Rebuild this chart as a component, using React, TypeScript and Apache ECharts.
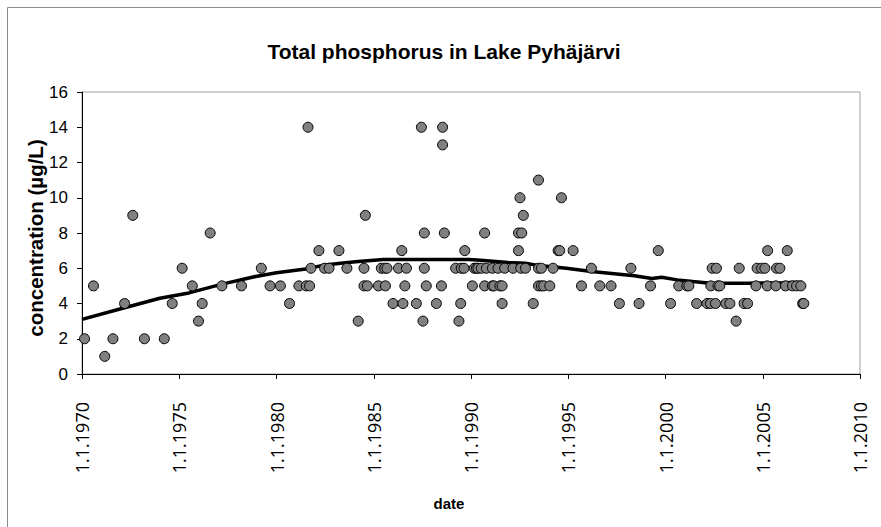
import React, { useEffect, useRef } from "react";
import * as echarts from "echarts";

const titleText = "Total phosphorus in Lake Pyhäjärvi";
const yAxisName = "concentration (µg/L)";
const xAxisName = "date";

// sample dates (decimal years) and total phosphorus (µg/L)
const sampleDates = [
  1970.13, 1970.59, 1971.17, 1971.59, 1972.19, 1972.61, 1973.21, 1974.23, 1974.64, 1975.15,
  1975.67, 1975.99, 1976.18, 1976.59, 1977.19, 1978.2, 1979.22, 1979.67, 1980.2, 1980.67,
  1981.15, 1981.53, 1981.7, 1981.62, 1981.77, 1982.18, 1982.47, 1982.7, 1983.21, 1983.62,
  1984.2, 1984.5, 1984.5, 1984.67, 1984.57, 1985.24, 1985.39, 1985.56, 1985.68, 1985.6,
  1985.99, 1986.27, 1986.44, 1986.5, 1986.6, 1986.68, 1987.19, 1987.45, 1987.53, 1987.6,
  1987.6, 1987.7, 1988.22, 1988.48, 1988.54, 1988.54, 1988.63, 1989.21, 1989.5, 1989.64,
  1989.47, 1989.38, 1989.68, 1990.07, 1990.17, 1990.28, 1990.36, 1990.53, 1990.79, 1991.1,
  1991.39, 1991.73, 1992.16, 1992.56, 1992.8, 1990.7, 1990.7, 1991.1, 1991.18, 1991.49,
  1991.6, 1991.6, 1992.44, 1992.44, 1992.61, 1992.52, 1992.69, 1993.2, 1993.47, 1993.47,
  1993.62, 1993.47, 1993.62, 1993.74, 1994.05, 1994.22, 1994.48, 1994.56, 1994.65, 1995.25,
  1995.68, 1996.19, 1996.62, 1997.2, 1997.63, 1998.22, 1998.64, 1999.23, 1999.63, 2000.26,
  2000.68, 2001.1, 2001.2, 2001.6, 2002.14, 2002.31, 2002.57, 2002.4, 2002.62, 2002.33,
  2002.7, 2002.79, 2003.1, 2003.31, 2003.63, 2003.79, 2004.04, 2004.22, 2004.65, 2004.71,
  2004.94, 2005.11, 2005.25, 2005.23, 2005.67, 2005.71, 2005.88, 2006.26, 2006.17, 2006.53,
  2006.74, 2006.96, 2007.05, 2007.11,
];
const sampleValues = [
  2, 5, 1, 2, 4, 9, 2, 2, 4, 6,
  5, 3, 4, 8, 5, 5, 6, 5, 5, 4,
  5, 5, 5, 14, 6, 7, 6, 6, 7, 6,
  3, 6, 5, 5, 9, 5, 6, 6, 6, 5,
  4, 6, 7, 4, 5, 6, 4, 14, 3, 8,
  6, 5, 4, 5, 14, 13, 8, 6, 6, 6,
  4, 3, 7, 5, 6, 6, 6, 6, 6, 6,
  6, 6, 6, 6, 6, 8, 5, 5, 5, 5,
  5, 4, 7, 8, 8, 10, 9, 4, 11, 6,
  6, 5, 5, 5, 5, 6, 7, 7, 10, 7,
  5, 6, 5, 5, 4, 6, 4, 5, 7, 4,
  5, 5, 5, 4, 4, 4, 4, 6, 6, 5,
  5, 5, 4, 4, 3, 6, 4, 4, 5, 6,
  6, 6, 7, 5, 5, 6, 6, 7, 5, 5,
  5, 5, 4, 4,
];

// smoothed trend
const trendDates = [
  1970, 1972, 1974, 1975.5, 1977.2, 1979, 1980, 1981.5, 1982.5, 1983.3,
  1984.2, 1985.5, 1989.9, 1990.5, 1991.9, 1992.8, 1993.5, 1994.9, 1996.2, 1998.4,
  1999.3, 1999.8, 2000.6, 2001.4, 2002.3, 2004.2, 2006, 2007,
];
const trendValues = [
  3.1, 3.7, 4.3, 4.6, 5.1, 5.55, 5.75, 5.96, 6.19, 6.28,
  6.38, 6.5, 6.5, 6.45, 6.32, 6.28, 6.15, 6.0, 5.81, 5.58,
  5.42, 5.49, 5.34, 5.25, 5.15, 5.15, 5.18, 5.21,
];

const xMin = 1970;
const xMax = 2010;
const xStep = 5;
const yMin = 0;
const yMax = 16;
const yStep = 2;

export default function App() {
  const ref = useRef<HTMLDivElement>(null);

  useEffect(() => {
    if (!ref.current) return;
    const chart = echarts.init(ref.current, undefined, { renderer: "svg" });
    const scatterData = sampleDates.map((d, i) => [d, sampleValues[i]]);
    const trendData = trendDates.map((d, i) => [d, trendValues[i]]);
    chart.setOption({
      animation: false,
      backgroundColor: "#ffffff",
      grid: {
        left: 82,
        top: 92,
        right: 21,
        bottom: 153,
        show: true,
        borderColor: "#a0a0a0",
        borderWidth: 1,
        backgroundColor: "transparent",
      },
      xAxis: {
        type: "value",
        min: xMin,
        max: xMax,
        interval: xStep,
        axisLine: { show: true, onZero: false, lineStyle: { color: "#000", width: 1 } },
        axisTick: { show: true, length: 5, lineStyle: { color: "#000" } },
        splitLine: { show: false },
        axisLabel: {
          rotate: 90,
          margin: 28,
          formatter: (v: number) => `1.1.${v}`,
          fontFamily: "Open Sans",
          fontSize: 18,
          color: "#000",
        },
      },
      yAxis: {
        type: "value",
        min: yMin,
        max: yMax,
        interval: yStep,
        axisLine: { show: true, lineStyle: { color: "#000", width: 1 } },
        axisTick: { show: true, length: 5, lineStyle: { color: "#000" } },
        splitLine: { show: false },
        axisLabel: {
          margin: 14,
          fontFamily: "Liberation Sans",
          fontSize: 17,
          color: "#000",
        },
      },
      graphic: [
        {
          type: "rect",
          shape: { x: 7.5, y: 7.5, width: 900, height: 600 },
          style: { fill: "none", stroke: "#8c8c8c", lineWidth: 1 },
          silent: true,
        },
        {
          type: "text",
          x: 444,
          y: 51,
          style: {
            text: titleText,
            fontFamily: "Liberation Sans",
            fontWeight: "bold",
            fontSize: 21,
            fill: "#000",
            align: "center",
            verticalAlign: "middle",
          },
        },
        {
          type: "text",
          x: 35,
          y: 238,
          rotation: Math.PI / 2,
          style: {
            text: yAxisName,
            fontFamily: "Liberation Sans",
            fontWeight: "bold",
            fontSize: 20.5,
            fill: "#000",
            align: "center",
            verticalAlign: "middle",
          },
        },
        {
          type: "text",
          x: 449,
          y: 503,
          style: {
            text: xAxisName,
            fontFamily: "Liberation Sans",
            fontWeight: "bold",
            fontSize: 15,
            fill: "#000",
            align: "center",
            verticalAlign: "middle",
          },
        },
      ],
      series: [
        {
          type: "line",
          data: trendData,
          showSymbol: false,
          smooth: false,
          lineStyle: { color: "#000", width: 3.5 },
          z: 2,
        },
        {
          type: "scatter",
          data: scatterData,
          symbol: "circle",
          symbolSize: 10,
          itemStyle: { color: "#808080", borderColor: "#000", borderWidth: 1, opacity: 1 },
          z: 3,
        },
      ],
    });
    return () => chart.dispose();
  }, []);

  return (
    <div
      ref={ref}
      style={{ position: "fixed", left: 0, top: 0, width: 881, height: 527, background: "#fff" }}
    />
  );
}
